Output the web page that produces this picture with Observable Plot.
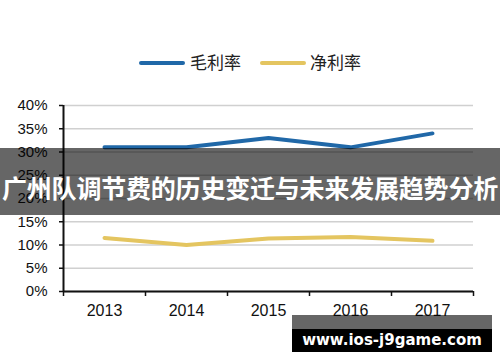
<!DOCTYPE html>
<html>
<head>
<meta charset="utf-8">
<script src="https://cdn.jsdelivr.net/npm/d3@7"></script>
<script src="https://cdn.jsdelivr.net/npm/@observablehq/plot@0.6"></script>
<style>
  html, body { margin: 0; padding: 0; background: #fff; }
  #wrap { position: relative; width: 500px; height: 362px; overflow: hidden; font-family: "Liberation Sans", Arial, sans-serif; }
  #legend { position: relative; height: 80px; }
  .sw { position: absolute; top: 61px; width: 46px; height: 4px; border-radius: 2px; }
  .lt { position: absolute; top: 50px; font-family: "Noto Sans CJK SC", sans-serif; font-size: 17px; color: #222; line-height: 24px; }
  #banner { position: absolute; left: 0; top: 148px; width: 500px; height: 67px; background: rgba(0,0,0,0.6);
            color: #fff; font-family: "Noto Sans CJK SC", sans-serif; font-weight: bold; font-size: 25px;
            text-align: center; line-height: 67px; white-space: nowrap; letter-spacing: -0.2px; padding-top: 6px; box-sizing: border-box; }
  #wm1 { position: absolute; left: 292px; top: 315px; width: 200px; height: 14px; background: rgba(0,0,0,0.6); }
  #wm2 { position: absolute; left: 292px; top: 329px; width: 200px; height: 23px; background: #000; color: #fff;
         font-family: "DejaVu Sans", Verdana, sans-serif; font-weight: bold; font-size: 15px; line-height: 23px; text-align: center; white-space: nowrap; }
</style>
</head>
<body>
<div id="wrap">
  <div id="legend"></div>
  <div id="chart"></div>
  <div id="banner"></div>
  <div id="wm1"></div>
  <div id="wm2"></div>
</div>
<script>
const years = [2013, 2014, 2015, 2016, 2017];
const grossMargin = [0.31, 0.31, 0.33, 0.31, 0.34];
const netMargin = [0.115, 0.10, 0.114, 0.117, 0.109];
const seriesNames = ["毛利率", "净利率"];
const seriesColors = ["#2068a8", "#e4c560"];
const yTicks = [0, 0.05, 0.10, 0.15, 0.20, 0.25, 0.30, 0.35, 0.40];
const bandEdges = [2012.5, 2013.5, 2014.5, 2015.5, 2016.5, 2017.5];
const bannerText = "广州队调节费的历史变迁与未来发展趋势分析";
const watermarkText = "www.ios-j9game.com";

const data = [];
years.forEach((yr, i) => {
  data.push({year: yr, value: grossMargin[i], series: seriesNames[0]});
  data.push({year: yr, value: netMargin[i], series: seriesNames[1]});
});

// legend
const legend = document.getElementById("legend");
const swX = [139, 260], txX = [190, 310];
seriesNames.forEach((n, i) => {
  const s = document.createElement("div");
  s.className = "sw"; s.style.left = swX[i] + "px"; s.style.background = seriesColors[i];
  legend.appendChild(s);
  const t = document.createElement("div");
  t.className = "lt"; t.style.left = txX[i] + "px"; t.textContent = n;
  legend.appendChild(t);
});

const chart = Plot.plot({
  width: 500,
  height: 282,
  marginTop: 25,
  marginBottom: 71,
  marginLeft: 63,
  marginRight: 27,
  style: {fontFamily: "'Liberation Sans', Arial, sans-serif", fontSize: "15px", color: "#111", background: "transparent"},
  x: {domain: [2012.5, 2017.5], axis: null},
  y: {domain: [0, 0.4], axis: null},
  color: {domain: seriesNames, range: seriesColors},
  marks: [
    Plot.gridY(yTicks, {stroke: "#d0d0d0", strokeOpacity: 1, strokeWidth: 1.5}),
    Plot.axisY(yTicks, {tickFormat: d3.format(".0%"), tickSize: 4, tickPadding: 12, fontSize: 15, stroke: "#111", strokeWidth: 1.5, label: null}),
    Plot.axisX(bandEdges, {tickFormat: () => "", tickSize: 5, stroke: "#111", strokeWidth: 1.5, label: null}),
    Plot.axisX(years, {tickFormat: d => String(d), tickSize: 0, tickPadding: 13, fontSize: 16, label: null}),
    Plot.ruleX([2012.5], {stroke: "#111", strokeWidth: 2}),
    Plot.ruleY([0], {stroke: "#111", strokeWidth: 2}),
    Plot.line(data, {x: "year", y: "value", z: "series", stroke: "series", strokeWidth: 4, strokeLinecap: "round", strokeLinejoin: "round"})
  ]
});
document.getElementById("chart").appendChild(chart);
document.getElementById("banner").textContent = bannerText;
document.getElementById("wm2").textContent = watermarkText;
</script>
</body>
</html>
